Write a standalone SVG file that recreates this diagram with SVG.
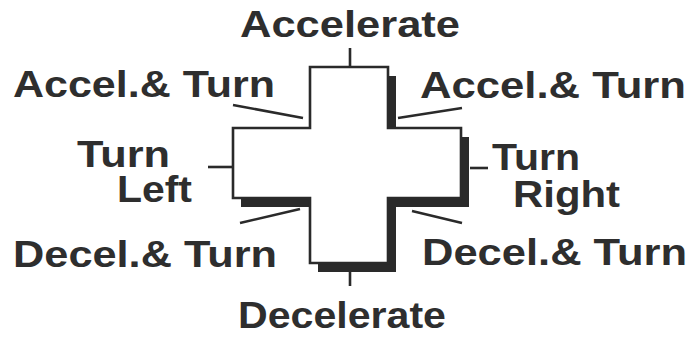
<svg xmlns="http://www.w3.org/2000/svg" width="691" height="338" viewBox="0 0 691 338">
<style>
.lbl{font-family:"Liberation Sans",Arial,sans-serif;font-weight:bold;font-size:36px;fill:#2e2e2e}
.tick{stroke:#2a2a2a;stroke-width:2.6;fill:none;stroke-linecap:butt}
.outline{fill:#fff;stroke:#2a2a2a;stroke-width:2.6}
.shadow{fill:#2a2a2a}
</style>
<defs>
<path id="crossShape" d="M310 67 H388 V128 H461 V198 H388 V263 H310 V198 H233 V128 H310 Z"/>
</defs>
<rect width="691" height="338" fill="#fff"/>
<g id="dpad">
<use href="#crossShape" class="shadow" transform="translate(8,9)"/>
<use href="#crossShape" class="outline"/>
</g>
<g id="connectors">
<line class="tick" x1="350" y1="48" x2="350" y2="67"/>
<line class="tick" x1="350" y1="272" x2="350" y2="286"/>
<line class="tick" x1="208" y1="167" x2="233" y2="167"/>
<line class="tick" x1="470" y1="168" x2="488" y2="168"/>
<line class="tick" x1="233" y1="105" x2="303" y2="118"/>
<line class="tick" x1="398" y1="118" x2="462" y2="108"/>
<line class="tick" x1="240" y1="223" x2="300" y2="209"/>
<line class="tick" x1="412" y1="211" x2="462" y2="223"/>
</g>
<g id="accelerate"><text class="lbl" x="240" y="37" textLength="220" lengthAdjust="spacingAndGlyphs">Accelerate</text></g>
<g id="accel-turn-left"><text class="lbl" x="13" y="97" textLength="262" lengthAdjust="spacingAndGlyphs">Accel.&amp; Turn</text></g>
<g id="accel-turn-right"><text class="lbl" x="420" y="98" textLength="266" lengthAdjust="spacingAndGlyphs">Accel.&amp; Turn</text></g>
<g id="turn-left">
<text class="lbl"><tspan x="77" y="167" textLength="93" lengthAdjust="spacingAndGlyphs">Turn</tspan><tspan x="117" y="202" textLength="75" lengthAdjust="spacingAndGlyphs">Left</tspan></text>
</g>
<g id="turn-right">
<text class="lbl" font-size="35"><tspan x="492" y="170" textLength="88" lengthAdjust="spacingAndGlyphs">Turn</tspan><tspan x="513" y="207" textLength="107" lengthAdjust="spacingAndGlyphs">Right</tspan></text>
</g>
<g id="decel-turn-left"><text class="lbl" x="13" y="267" textLength="264" lengthAdjust="spacingAndGlyphs">Decel.&amp; Turn</text></g>
<g id="decel-turn-right"><text class="lbl" x="422" y="265" textLength="265" lengthAdjust="spacingAndGlyphs">Decel.&amp; Turn</text></g>
<g id="decelerate"><text class="lbl" x="238" y="328" textLength="208" lengthAdjust="spacingAndGlyphs">Decelerate</text></g>
</svg>
